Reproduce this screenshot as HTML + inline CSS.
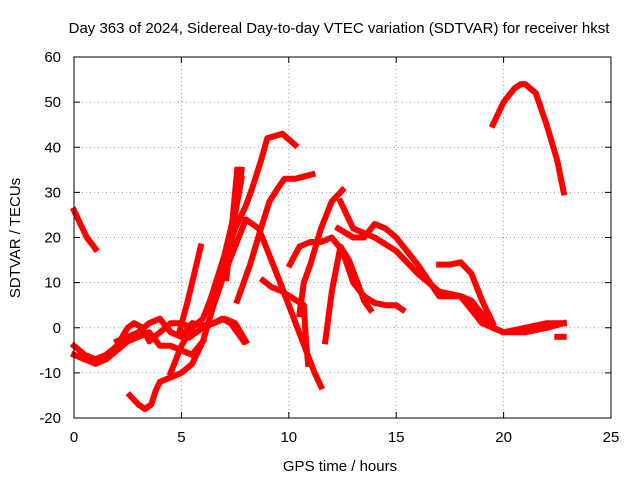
<!DOCTYPE html>
<html><head><meta charset="utf-8"><style>
html,body{margin:0;padding:0;background:#fff}
svg{display:block;font-family:"Liberation Sans",sans-serif}
</style></head><body>
<svg id="chart" width="640" height="480">
<rect width="640" height="480" fill="#fff"/>
<text x="339" y="33" font-size="15" text-anchor="middle">Day 363 of 2024, Sidereal Day-to-day VTEC variation (SDTVAR) for receiver hkst</text>
<g id="grid"></g>
<g id="series"></g>
<rect x="74" y="57" width="537" height="361" fill="none" stroke="#000"/>
<g id="axes"></g>
<text x="340" y="471" font-size="15" text-anchor="middle">GPS time / hours</text>
<text x="20" y="238" font-size="15" text-anchor="middle" transform="rotate(-90 20 238)">SDTVAR / TECUs</text>
</svg>
<script>
const xTicks=[0,5,10,15,20,25];
const yTicks=[-20,-10,0,10,20,30,40,50,60];
const trackHours=[
[0,0.3,0.6,1],
[0,0.5,1,1.5,2,2.5,2.8,3.2,3.5,4,4.5,5,5.5],
[0,0.5,1,1.5,2,2.5,3,3.5,4,4.5,5,5.5,6],
[2,2.5,3,3.5,4,4.5,5,5.5,6,6.5,7,7.5,8],
[2.6,3,3.3,3.6,3.8,4,4.5,5,5.5,6,6.5,7,7.3,7.8],
[4.5,5,5.5,6,6.5,7,7.5,8,8.3,8.7,9,9.7,10.3],
[7.6,8.2,8.7,9.1,9.5,9.8,10.3,11.1],
[6.2,6.6,7,7.3,7.6,7.8],
[4.9,5.3,5.6,5.9],
[5.4,6,6.5,6.9,7.3,7.9],
[7,7.5,8,8.6,9.1,9.6,10,10.4,10.8,11.2,11.5],
[7.1,7.3,7.6],
[8.8,9.2,9.7,10.2,10.7,10.8,10.9],
[10.05,10.5,11,11.5,12,12.5,13,13.5,14,14.5,15,15.3],
[10.5,10.7,11,11.5,12,12.5],
[11.7,12,12.4,12.8,13.2,13.5,13.8],
[12.4,13,14,15,16,17,18,18.5,19,19.5,20,21,22,22.8],
[12.3,13,13.5,14,14.5,15,16,17,18,19,20,21,22,22.8],
[17,17.5,18,18.3,18.5,19,19.5],
[19.5,20,20.5,20.8,21,21.5,22,22.5,22.8],
[22.5,22.8]
];
const trackValues=[
[26,23,20,17.5],
[-4,-6,-7,-6,-4,0,1,0,-3,-1,1,1,0],
[-6,-7,-8,-7,-5,-3,-2,-1,-4,-4,-5,-6,-3],
[-3,-2,-1,1,2,-1,-2,1,0.5,1,2,1,-3],
[-15,-17,-18,-17,-14,-12,-11,-10,-8,-3,5,12,20,33],
[-10,-4,0,2,8,15,22,27,31,37,42,43,40.5],
[6,14,22,28,31,33,33,34],
[4,10,16,22,28,35],
[-1,6,12,18],
[-2,0,1,2,1,-3],
[12,18,24,22,16,10,5,0,-5,-10,-13],
[11,20,35],
[10.5,9,8,6.5,5,-3,-8],
[14,18,19,19,20,17,10,7,5.5,5,5,4],
[3,10,14,22,28,30.5],
[-3,8,18,15,10,6,4],
[28,22,20,17,12,8,7,6,3,0,-1,-1,0,1],
[22,20,20,23,22,20,14,7,7,1,-1,0,1,1],
[14,14,14.5,13,12,6,1],
[45,50,53,54,54,52,45,37,30],
[-2,-2]
];
const L=74,R=611,T=57,B=418;
const xs=h=>L+(h-0)/25*(R-L);
const ys=v=>B-(v+20)/80*(B-T);
const NS="http://www.w3.org/2000/svg";
const grid=document.getElementById('grid'),axes=document.getElementById('axes'),ser=document.getElementById('series');
xTicks.forEach(t=>{
  const x=xs(t);
  if(t>0&&t<25){const g=document.createElementNS(NS,'line');
  g.setAttribute('x1',x);g.setAttribute('x2',x);g.setAttribute('y1',T);g.setAttribute('y2',B);
  g.setAttribute('stroke','#999');g.setAttribute('stroke-dasharray','1,3');
  
  
  grid.appendChild(g);}
  const tk=document.createElementNS(NS,'text');
  tk.setAttribute('x',x);tk.setAttribute('y',B+24);tk.setAttribute('font-size','15');tk.setAttribute('text-anchor','middle');
  tk.textContent=t;
  
  
  axes.appendChild(tk);
  [[B,B-6],[T,T+6]].forEach(p=>{const m=document.createElementNS(NS,'line');
  m.setAttribute('x1',x);m.setAttribute('x2',x);m.setAttribute('y1',p[0]);m.setAttribute('y2',p[1]);m.setAttribute('stroke','#000');
  
  
  axes.appendChild(m);});
});
yTicks.forEach(t=>{
  const y=ys(t);
  if(t>-20&&t<60){const g=document.createElementNS(NS,'line');
  g.setAttribute('x1',L);g.setAttribute('x2',R);g.setAttribute('y1',y);g.setAttribute('y2',y);
  g.setAttribute('stroke','#999');g.setAttribute('stroke-dasharray','1,3');
  
  
  grid.appendChild(g);}
  const tk=document.createElementNS(NS,'text');
  tk.setAttribute('x',L-13);tk.setAttribute('y',y+5);tk.setAttribute('font-size','15');tk.setAttribute('text-anchor','end');
  tk.textContent=t;
  
  
  axes.appendChild(tk);
  [[L,L+6],[R,R-6]].forEach(p=>{const m=document.createElementNS(NS,'line');
  m.setAttribute('x1',p[0]);m.setAttribute('x2',p[1]);m.setAttribute('y1',y);m.setAttribute('y2',y);m.setAttribute('stroke','#000');
  
  
  axes.appendChild(m);});
});
trackHours.forEach((hs,i)=>{
  const vs=trackValues[i];
  const pts=hs.map((h,j)=>xs(h).toFixed(1)+','+ys(vs[j]).toFixed(1)).join(' ');
  const pl=document.createElementNS(NS,'polyline');
  pl.setAttribute('points',pts);pl.setAttribute('fill','none');pl.setAttribute('stroke','#f00');
  pl.setAttribute('stroke-width','6');pl.setAttribute('stroke-linejoin','round');pl.setAttribute('stroke-linecap','square');
  
  
  ser.appendChild(pl);
});
</script>
</body></html>
